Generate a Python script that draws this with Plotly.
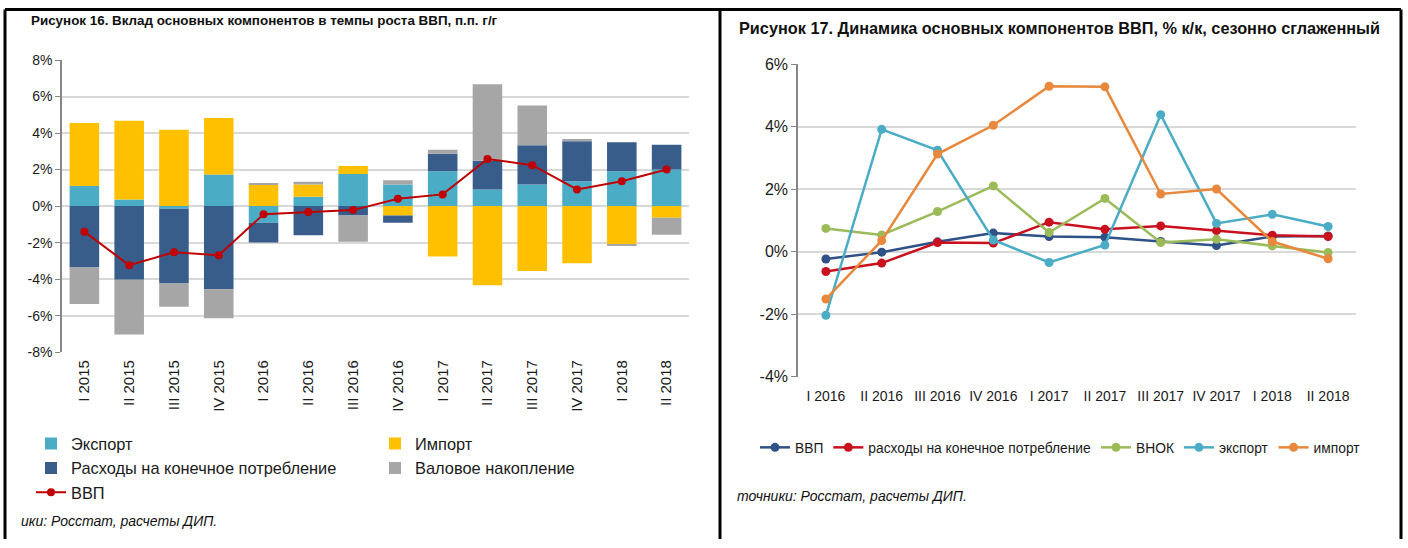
import plotly.graph_objects as go

W, H = 1408, 548

# --- Рисунок 16 ---
quarters1 = ["I 2015", "II 2015", "III 2015", "IV 2015", "I 2016", "II 2016", "III 2016",
             "IV 2016", "I 2017", "II 2017", "III 2017", "IV 2017", "I 2018", "II 2018"]
export1 = [1.10, 0.36, -0.15, 1.73, -0.91, 0.51, 1.76, 1.18, 1.91, 0.91, 1.18, 1.36, 1.91, 2.00]
import1 = [3.45, 4.31, 4.18, 3.09, 1.15, 0.67, 0.44, -0.51, -2.76, -4.33, -3.55, -3.13, -2.09, -0.64]
consumption1 = [-3.36, -4.04, -4.09, -4.55, -1.09, -1.60, -0.51, -0.40, 0.96, 1.58, 2.15, 2.19, 1.58, 1.36]
accumulation1 = [-2.00, -3.00, -1.28, -1.60, 0.12, 0.15, -1.45, 0.24, 0.22, 4.18, 2.18, 0.12, -0.05, -0.93]
gdp1 = [-1.40, -3.24, -2.53, -2.69, -0.45, -0.33, -0.22, 0.40, 0.64, 2.58, 2.24, 0.91, 1.36, 2.00]
yticks1 = [-8, -6, -4, -2, 0, 2, 4, 6, 8]

# --- Рисунок 17 ---
quarters2 = ["I 2016", "II 2016", "III 2016", "IV 2016", "I 2017",
             "II 2017", "III 2017", "IV 2017", "I 2018", "II 2018"]
gdp2 = [-0.24, -0.02, 0.31, 0.59, 0.48, 0.46, 0.32, 0.19, 0.48, 0.50]
consumption2 = [-0.64, -0.37, 0.29, 0.27, 0.94, 0.71, 0.82, 0.67, 0.52, 0.48]
gfcf2 = [0.74, 0.53, 1.28, 2.10, 0.61, 1.70, 0.29, 0.39, 0.18, -0.03]
export2 = [-2.04, 3.91, 3.24, 0.37, -0.35, 0.21, 4.38, 0.90, 1.19, 0.80]
import2 = [-1.52, 0.35, 3.12, 4.04, 5.29, 5.27, 1.84, 2.00, 0.32, -0.23]
yticks2 = [-4, -2, 0, 2, 4, 6]

FONT = "Liberation Sans, Arial, sans-serif"
GRID = "#d9d9d9"
AXIS = "#868686"


def px(x):
    return x / W


def py(y):
    # the photo of the page comes out slightly squeezed vertically, undo that
    y = (y - 7.8) / 0.972
    return 1 - y / H


fig = go.Figure()

# bars of figure 16
bar_specs = [
    ("Экспорт", export1, "#4bacc6", "legend"),
    ("Импорт", import1, "#ffc000", "legend2"),
    ("Расходы на конечное потребление", consumption1, "#385d8a", "legend"),
    ("Валовое накопление", accumulation1, "#a6a6a6", "legend2"),
]
for name, vals, color, leg in bar_specs:
    fig.add_trace(go.Bar(x=quarters1, y=vals, name=name, marker_color=color,
                         marker_line_width=0, legend=leg, legendgroup=name,
                         xaxis="x", yaxis="y"))

fig.add_trace(go.Scatter(x=quarters1, y=gdp1, name="ВВП", mode="lines+markers",
                         line=dict(color="#c00000", width=2), marker=dict(size=8, color="#c00000"),
                         legend="legend", legendgroup="ВВП", xaxis="x", yaxis="y"))

# lines of figure 17
line_specs = [
    ("ВВП", gdp2, "#2e5186"),
    ("расходы на конечное потребление", consumption2, "#c8101e"),
    ("ВНОК", gfcf2, "#9bbb59"),
    ("экспорт", export2, "#4bacc6"),
    ("импорт", import2, "#e8883c"),
]
for name, vals, color in line_specs:
    fig.add_trace(go.Scatter(x=quarters2, y=vals, name=name, mode="lines+markers",
                             line=dict(color=color, width=2.5), marker=dict(size=9, color=color),
                             legend="legend3", xaxis="x2", yaxis="y2"))

fig.update_layout(
    width=W, height=H,
    margin=dict(l=0, r=0, t=0, b=0),
    paper_bgcolor="white", plot_bgcolor="white",
    font=dict(family=FONT, size=14, color="#1a1a1a"),
    barmode="relative", bargap=0.34,
    showlegend=True,
    # figure 16 axes
    xaxis=dict(domain=[px(62), px(689)], anchor="y", type="category",
               tickangle=-90, tickfont=dict(size=15), ticks="", showline=False,
               showgrid=False, range=[-0.5, 13.5], ticklabelstandoff=4),
    xaxis3=dict(domain=[px(62), px(689)], anchor="free", overlaying="x",
                position=py(206.5), range=[-0.5, 13.5], tick0=-0.5, dtick=1,
                showline=True, linecolor=AXIS, linewidth=1.5, ticks="outside",
                ticklen=5, tickcolor=AXIS, showticklabels=False, showgrid=False),
    yaxis=dict(domain=[py(353), py(60)], anchor="x", range=[-8, 8],
               tickvals=yticks1, ticktext=[f"{v}%" for v in yticks1],
               showgrid=True, gridcolor=GRID,
               gridwidth=1.5, zeroline=False, showline=True, linecolor=AXIS,
               linewidth=1.5, ticks="outside", ticklen=5, tickcolor=AXIS,
               tickfont=dict(size=14)),
    # figure 17 axes
    xaxis2=dict(domain=[px(798), px(1356)], anchor="y2", type="category",
                ticks="", showline=False, showgrid=False, range=[-0.5, 9.5],
                tickfont=dict(size=14), ticklabelstandoff=9),
    xaxis4=dict(domain=[px(798), px(1356)], anchor="free", overlaying="x2",
                position=py(252), range=[-0.5, 9.5], tick0=-0.5, dtick=1,
                showline=True, linecolor=AXIS, linewidth=1.5, ticks="outside",
                ticklen=5, tickcolor=AXIS, showticklabels=False, showgrid=False),
    yaxis2=dict(domain=[py(377.5), py(64)], anchor="x2", range=[-4, 6],
                tickvals=yticks2, ticktext=[f"{v}%" for v in yticks2],
                showgrid=True, gridcolor=GRID, gridwidth=1.5,
                zeroline=False, showline=True, linecolor=AXIS, linewidth=1.5,
                ticks="outside", ticklen=5, tickcolor=AXIS, tickfont=dict(size=16)),
    legend=dict(x=px(31), y=py(427.5), xanchor="left", yanchor="top",
                orientation="v", tracegroupgap=0, font=dict(size=16.4),
                bgcolor="rgba(0,0,0,0)"),
    legend2=dict(x=px(375), y=py(427.5), xanchor="left", yanchor="top",
                 orientation="v", tracegroupgap=0, font=dict(size=16.4),
                 bgcolor="rgba(0,0,0,0)"),
    legend3=dict(x=px(755), y=py(433), xanchor="left", yanchor="top",
                 orientation="h", font=dict(size=13.8), bgcolor="rgba(0,0,0,0)"),
)

fig.add_annotation(text="<b>Рисунок 16. Вклад основных компонентов в темпы роста ВВП, п.п. г/г</b>",
                   x=px(29), y=py(20), xref="paper", yref="paper", xanchor="left",
                   yanchor="middle", showarrow=False, font=dict(size=13.4, color="#111"))
fig.add_annotation(text="<b>Рисунок 17. Динамика основных компонентов ВВП, % к/к, сезонно сглаженный</b>",
                   x=px(737), y=py(28), xref="paper", yref="paper", xanchor="left",
                   yanchor="middle", showarrow=False, font=dict(size=16.3, color="#111"))
fig.add_annotation(text="<i>ики: Росстат, расчеты ДИП.</i>",
                   x=px(19), y=py(522), xref="paper", yref="paper", xanchor="left",
                   yanchor="middle", showarrow=False, font=dict(size=14, color="#111"))
fig.add_annotation(text="<i>точники: Росстат, расчеты ДИП.</i>",
                   x=px(735), y=py(497), xref="paper", yref="paper", xanchor="left",
                   yanchor="middle", showarrow=False, font=dict(size=14, color="#111"))

# frame: top, left, right borders and the divider between the panels
frame = dict(color="black", width=3)
top = py(9.3)
fig.add_shape(type="line", xref="paper", yref="paper", x0=px(5), x1=px(1401),
              y0=top, y1=top, line=frame)
for xb in (5, 720, 1401):
    fig.add_shape(type="line", xref="paper", yref="paper", x0=px(xb), x1=px(xb),
                  y0=0, y1=top, line=frame)

pin = ("document.documentElement.style.overflow='hidden';"
       "document.body.style.margin='0';"
       "var gd=document.getElementById('{plot_id}');"
       "gd.style.position='fixed';gd.style.top='0px';gd.style.left='0px';")
fig.write_html("out.html", config={"displayModeBar": False}, post_script=pin)
